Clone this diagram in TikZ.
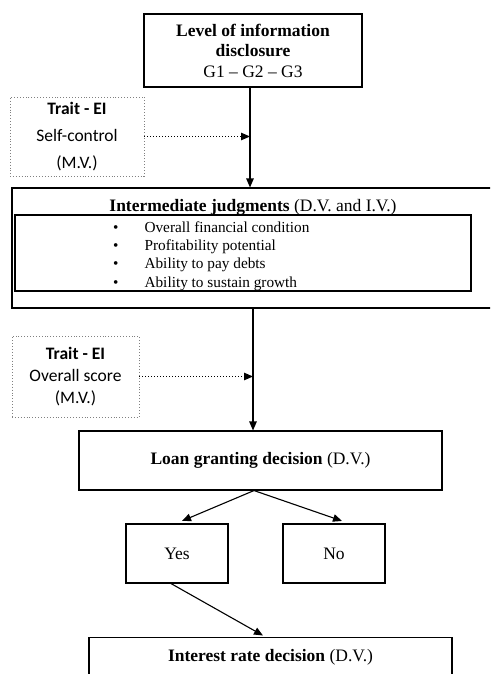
\documentclass[tikz,border=0pt]{standalone}
\usepackage{fontspec}
\setmainfont{Liberation Serif}
\newfontfamily\calib{Carlito}
\usetikzlibrary{arrows.meta}
\begin{document}
\begin{tikzpicture}[x=1pt,y=-1pt,
  box/.style={draw, line width=1.1pt, inner sep=0pt, align=center, font=\fontsize{17.5}{20.5}\selectfont},
  trait/.style={draw=gray, dotted, line width=0.9pt, inner sep=0pt, align=center, font=\calib\fontsize{17.5}{22}\selectfont},
  arr/.style={line width=1.1pt, -{Triangle[length=9pt,width=7.5pt]}},
  darr/.style={dotted, line width=1pt, -{Triangle[length=9pt,width=7.5pt]}}]
\useasboundingbox (0,0) rectangle (490,674);
\clip (0,0) rectangle (490,674);

\node[box, minimum width=218, minimum height=73] (top) at (253,50.5)
  {\textbf{Level of information}\\\textbf{disclosure}\\G1 -- G2 -- G3};

\node[trait, minimum width=134, minimum height=79, font=\calib\fontsize{17.5}{27}\selectfont] (t1) at (77,136.5)
  {\textbf{Trait - EI}\\Self-control\\(M.V.)};

\node[box, minimum width=488, minimum height=120] (inter) at (256,248) {};
\node[font=\fontsize{17.5}{20.5}\selectfont, inner sep=0pt] (ttl) at (253,207)
  {\textbf{Intermediate judgments} (D.V. and I.V.)};
\node[box, minimum width=456, minimum height=76] (list) at (243,253) {};
\node[anchor=west, inner sep=0pt, align=left, font=\fontsize{15.3}{18.4}\selectfont] (items) at (113,256)
  {\begin{tabular}{@{}l@{\hspace{26pt}}l@{}}
   \textbullet & Overall financial condition\\
   \textbullet & Profitability potential\\
   \textbullet & Ability to pay debts\\
   \textbullet & Ability to sustain growth
   \end{tabular}};

\node[trait, minimum width=127, minimum height=81] (t2) at (75.5,376.5)
  {\textbf{Trait - EI}\\Overall score\\(M.V.)};

\node[box, minimum width=363, minimum height=59] (loan) at (260.5,460.5)
  {\textbf{Loan granting decision} (D.V.)};

\node[box, minimum width=102, minimum height=59] (yes) at (177,553.5) {Yes};
\node[box, minimum width=102, minimum height=59] (no) at (334,553.5) {No};

\node[box, anchor=north, minimum width=363, minimum height=40] (rate) at (270.5,637)
  {\textbf{Interest rate decision} (D.V.)};

\coordinate (v1) at (250,0);
\coordinate (v2) at (253,0);
\draw[arr] (top.south -| v1) -- (inter.north -| v1);
\draw[darr] (t1.east) -- (t1.east -| v1);
\draw[arr] (inter.south -| v2) -- (loan.north -| v2);
\draw[darr] (t2.east) -- (t2.east -| v2);
\draw[arr] ([xshift=-6.5pt]loan.south) -- ([xshift=5pt,yshift=2.5pt]yes.north);
\draw[arr] ([xshift=-6.5pt]loan.south) -- ([xshift=8pt,yshift=2.5pt]no.north);
\draw[arr] ([xshift=-6pt]yes.south) -- ([xshift=-7.5pt,yshift=1.5pt]rate.north);
\end{tikzpicture}
\end{document}
